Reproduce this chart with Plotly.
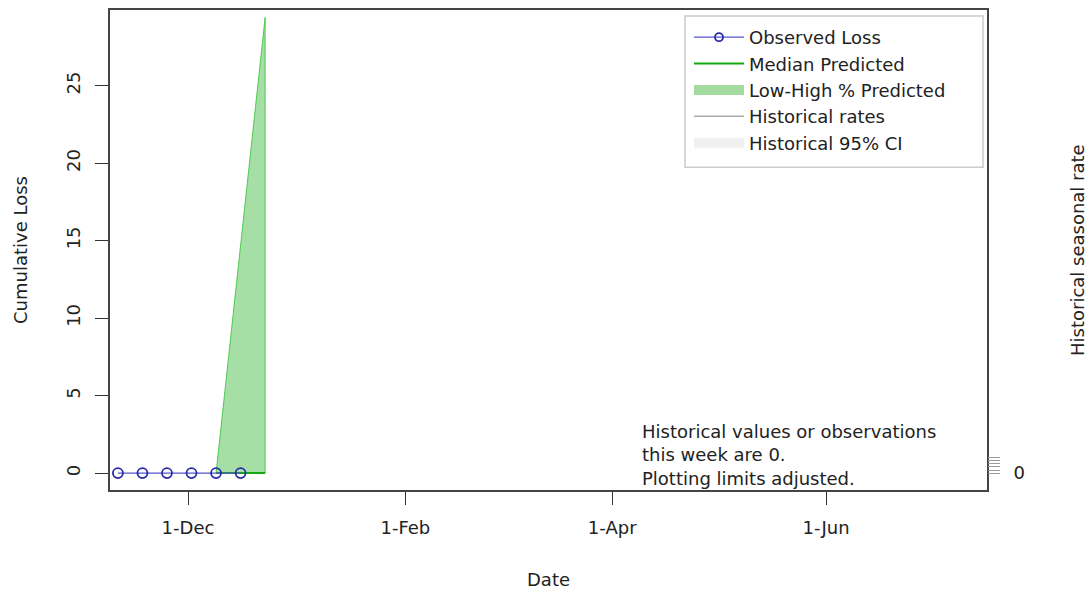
import plotly.graph_objects as go

# ---- data ----
obs_dates = ["2022-11-11", "2022-11-18", "2022-11-25", "2022-12-02", "2022-12-09", "2022-12-16"]
obs_loss = [0, 0, 0, 0, 0, 0]

pred_dates = ["2022-12-09", "2022-12-16", "2022-12-23"]
pred_median = [0, 0, 0]
pred_low = [0, 0, 0]
pred_high = [0, 14.6, 29.4]

x_tick_vals = ["2022-12-01", "2023-02-01", "2023-04-01", "2023-06-01"]
x_tick_text = ["1-Dec", "1-Feb", "1-Apr", "1-Jun"]
y_tick_vals = [0, 5, 10, 15, 20, 25]
rate_tick_vals = [0, 0.2, 0.4, 0.6, 0.8, 1.0]
rate_tick_text = ["0", "", "", "", "", ""]

FONT = "DejaVu Sans"
FS = 18

W, H = 1090, 594
L, R, T, B = 110, 103, 8, 104
PW, PH = W - L - R, H - T - B

def px(xp):  # page x -> paper fraction
    return (xp - L) / PW

def py(yp):  # page y -> paper fraction
    return (H - B - yp) / PH

fig = go.Figure()

band_x = pred_dates + pred_dates[::-1]
band_y = pred_high + pred_low[::-1]
fig.add_trace(go.Scatter(x=band_x, y=band_y, fill="toself", mode="lines",
                         fillcolor="rgba(20,170,20,0.38)",
                         line=dict(color="rgba(40,190,40,0.75)", width=1),
                         showlegend=False, hoverinfo="skip"))
fig.add_trace(go.Scatter(x=pred_dates, y=pred_median, mode="lines",
                         line=dict(color="#11a811", width=2), showlegend=False))
fig.add_trace(go.Scatter(x=obs_dates, y=obs_loss, mode="lines+markers",
                         line=dict(color="#5555d0", width=1.3),
                         marker=dict(symbol="circle-open", size=10, color="#2a2aa8",
                                     line=dict(width=1.8, color="#2a2aa8")),
                         showlegend=False))

# legend proxies
fig.add_trace(go.Scatter(x=[None], y=[None], mode="lines+markers", name="Observed Loss",
                         line=dict(color="#5555d0", width=1.3),
                         marker=dict(symbol="circle-open", size=8, color="#2a2aa8",
                                     line=dict(width=1.8, color="#2a2aa8"))))
fig.add_trace(go.Scatter(x=[None], y=[None], mode="lines", name="Median Predicted",
                         line=dict(color="#11a811", width=2)))
fig.add_trace(go.Scatter(x=[None], y=[None], mode="lines", name="Low-High % Predicted",
                         line=dict(color="#a3daa0", width=10)))
fig.add_trace(go.Scatter(x=[None], y=[None], mode="lines", name="Historical rates",
                         line=dict(color="#aaaaaa", width=1.5)))
fig.add_trace(go.Scatter(x=[None], y=[None], mode="lines", name="Historical 95% CI",
                         line=dict(color="#f0f0f0", width=10)))

fig.add_trace(go.Scatter(x=[None], y=[None], yaxis="y2", showlegend=False))

fig.update_layout(
    width=W, height=H,
    margin=dict(l=L, r=R, t=T, b=B),
    plot_bgcolor="white", paper_bgcolor="white",
    font=dict(family=FONT, size=FS, color="#222"),
    xaxis=dict(type="date", range=["2022-11-08 18:00", "2023-07-16 22:00"],
               tickvals=x_tick_vals, ticktext=x_tick_text,
               ticks="outside", ticklen=13, tickcolor="#333", tickwidth=1.2,
               showgrid=False, zeroline=False,
               showline=True, mirror=True, linecolor="#444", linewidth=1.6,
               tickfont=dict(size=FS), ticklabelstandoff=8),
    yaxis=dict(range=[-1.09, 29.88], tickvals=y_tick_vals, tickangle=-90,
               ticks="outside", ticklen=13, tickcolor="#333", tickwidth=1.2,
               showgrid=False, zeroline=False,
               showline=True, mirror=True, linecolor="#444", linewidth=1.6,
               tickfont=dict(size=FS), ticklabelstandoff=8),
    yaxis2=dict(range=[-1.09, 29.88], overlaying="y", side="right",
                tickvals=rate_tick_vals, ticktext=rate_tick_text,
                ticks="outside", ticklen=12, tickcolor="#999", tickwidth=1,
                showgrid=False, zeroline=False, showline=False,
                tickfont=dict(size=FS), ticklabelstandoff=10),
    legend=dict(x=px(689), y=py(17), xanchor="left", yanchor="top",
                bgcolor="rgba(0,0,0,0)", borderwidth=0,
                font=dict(size=FS), itemwidth=50, tracegroupgap=0),
    shapes=[dict(type="rect", xref="paper", yref="paper",
                 x0=px(685), x1=px(983), y0=py(166), y1=py(14),
                 line=dict(color="#cccccc", width=1.5), fillcolor="white", layer="below")],
    annotations=[
        dict(text="Historical values or observations<br>this week are 0.<br>Plotting limits adjusted.",
             xref="paper", yref="paper", x=px(640), y=py(455), xanchor="left", yanchor="middle",
             align="left", showarrow=False, font=dict(size=FS)),
        dict(text="Date", xref="paper", yref="paper", x=px(548), y=py(580),
             xanchor="center", yanchor="middle", showarrow=False, font=dict(size=FS)),
        dict(text="Cumulative Loss", xref="paper", yref="paper", x=px(20), y=0.5,
             xanchor="center", yanchor="middle", textangle=-90, showarrow=False, font=dict(size=FS)),
        dict(text="Historical seasonal rate", xref="paper", yref="paper", x=px(1077), y=0.5,
             xanchor="center", yanchor="middle", textangle=-90, showarrow=False, font=dict(size=FS)),
    ],
)

fig.write_html("out.html", config={"displayModeBar": False},
               post_script="document.body.style.margin='0';document.body.style.overflow='hidden';")
